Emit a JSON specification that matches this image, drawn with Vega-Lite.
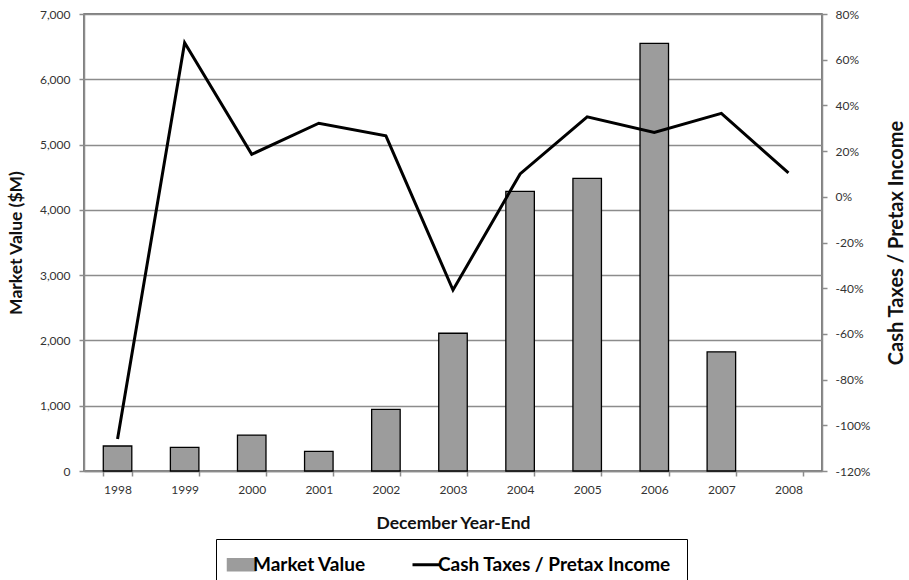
{
  "$schema": "https://vega.github.io/schema/vega-lite/v6.json",
  "width": 738,
  "height": 457,
  "autosize": "none",
  "padding": {"left": 84, "top": 14, "right": 87, "bottom": 109},
  "background": "white",
  "config": {
    "font": "Lato",
    "view": {"stroke": "#555555", "strokeWidth": 1.5},
    "legend": {"labelFontWeight": 700, "labelFont": "Lato", "labelFontSize": 19, "labelColor": "black"},
    "axis": {
      "domainColor": "#8c8c8c",
      "domainWidth": 1.5,
      "tickColor": "#8c8c8c",
      "tickWidth": 1.5,
      "tickSize": 5,
      "gridColor": "#8c8c8c",
      "gridWidth": 1.5,
      "labelFont": "Lato",
      "labelFontSize": 12,
      "labelColor": "#333333",
      "titleFont": "Lato",
      "titleFontSize": 17.5,
      "titleFontWeight": "bold",
      "titleColor": "#111111"
    }
  },
  "data": {
    "values": [
      {"year": "1998", "mv": 383, "tax": -106},
      {"year": "1999", "mv": 363, "tax": 67.4},
      {"year": "2000", "mv": 551, "tax": 18.6},
      {"year": "2001", "mv": 302, "tax": 32.2},
      {"year": "2002", "mv": 945, "tax": 26.7},
      {"year": "2003", "mv": 2110, "tax": -40.8},
      {"year": "2004", "mv": 4284, "tax": 10},
      {"year": "2005", "mv": 4483, "tax": 35},
      {"year": "2006", "mv": 6550, "tax": 28.2},
      {"year": "2007", "mv": 1825, "tax": 36.5},
      {"year": "2008", "mv": null, "tax": 10.5}
    ]
  },
  "layer": [
    {
      "mark": {"type": "bar", "stroke": "black", "strokeWidth": 1.3},
      "encoding": {
        "x": {
          "field": "year",
          "type": "ordinal",
          "scale": {"paddingInner": 0.575, "paddingOuter": 0.2875},
          "axis": {
            "title": "December Year-End",
            "labelAngle": 0,
            "tickBand": "extent",
            "labelPadding": 8,
            "titlePadding": 19
          }
        },
        "y": {
          "field": "mv",
          "type": "quantitative",
          "scale": {"domain": [0, 7000]},
          "axis": {
            "title": "Market Value ($M)",
            "format": ",.0f",
            "values": [0, 1000, 2000, 3000, 4000, 5000, 6000, 7000],
            "grid": true,
            "labelPadding": 9,
            "titlePadding": 14
          }
        },
        "color": {
          "datum": "Market Value",
          "type": "nominal",
          "scale": {
            "domain": ["Market Value", "Cash Taxes / Pretax Income"],
            "range": ["#9c9c9c", "black"]
          },
          "legend": {
            "orient": "none",
            "legendX": 132,
            "legendY": 525,
            "direction": "horizontal",
            "title": null,
            "strokeColor": "black",
            "padding": 16,
            "labelFont": "Lato",
            "labelFontSize": 19,
            "labelFontWeight": 700,
            "labelColor": "black",
            "labelLimit": 400,
            "labelOffset": 2,
            "columnPadding": 40,
            "symbolSize": 784,
            "symbolType": {"expr": "datum.value === 'Market Value' ? 'M-1,-0.43H1V0.43H-1Z' : 'stroke'"},
            "symbolStrokeColor": "black",
            "symbolStrokeWidth": {"expr": "datum.value === 'Market Value' ? 1.5 : 3"},
            "encode": {
              "labels": {"update": {"fontWeight": {"value": "bold"}}}
            }
          }
        }
      }
    },
    {
      "mark": {"type": "line", "strokeWidth": 3},
      "encoding": {
        "x": {"field": "year", "type": "ordinal"},
        "y": {
          "field": "tax",
          "type": "quantitative",
          "scale": {"domain": [-120, 80]},
          "axis": {
            "orient": "right",
            "title": "Cash Taxes / Pretax Income",
            "titleAngle": 270,
            "titleFontSize": 20,
            "values": [-120, -100, -80, -60, -40, -20, 0, 20, 40, 60, 80],
            "labelExpr": "datum.value + '%'",
            "grid": false,
            "labelPadding": 8,
            "titlePadding": 37
          }
        },
        "color": {"datum": "Cash Taxes / Pretax Income", "type": "nominal"}
      }
    }
  ],
  "resolve": {"scale": {"y": "independent"}}
}
